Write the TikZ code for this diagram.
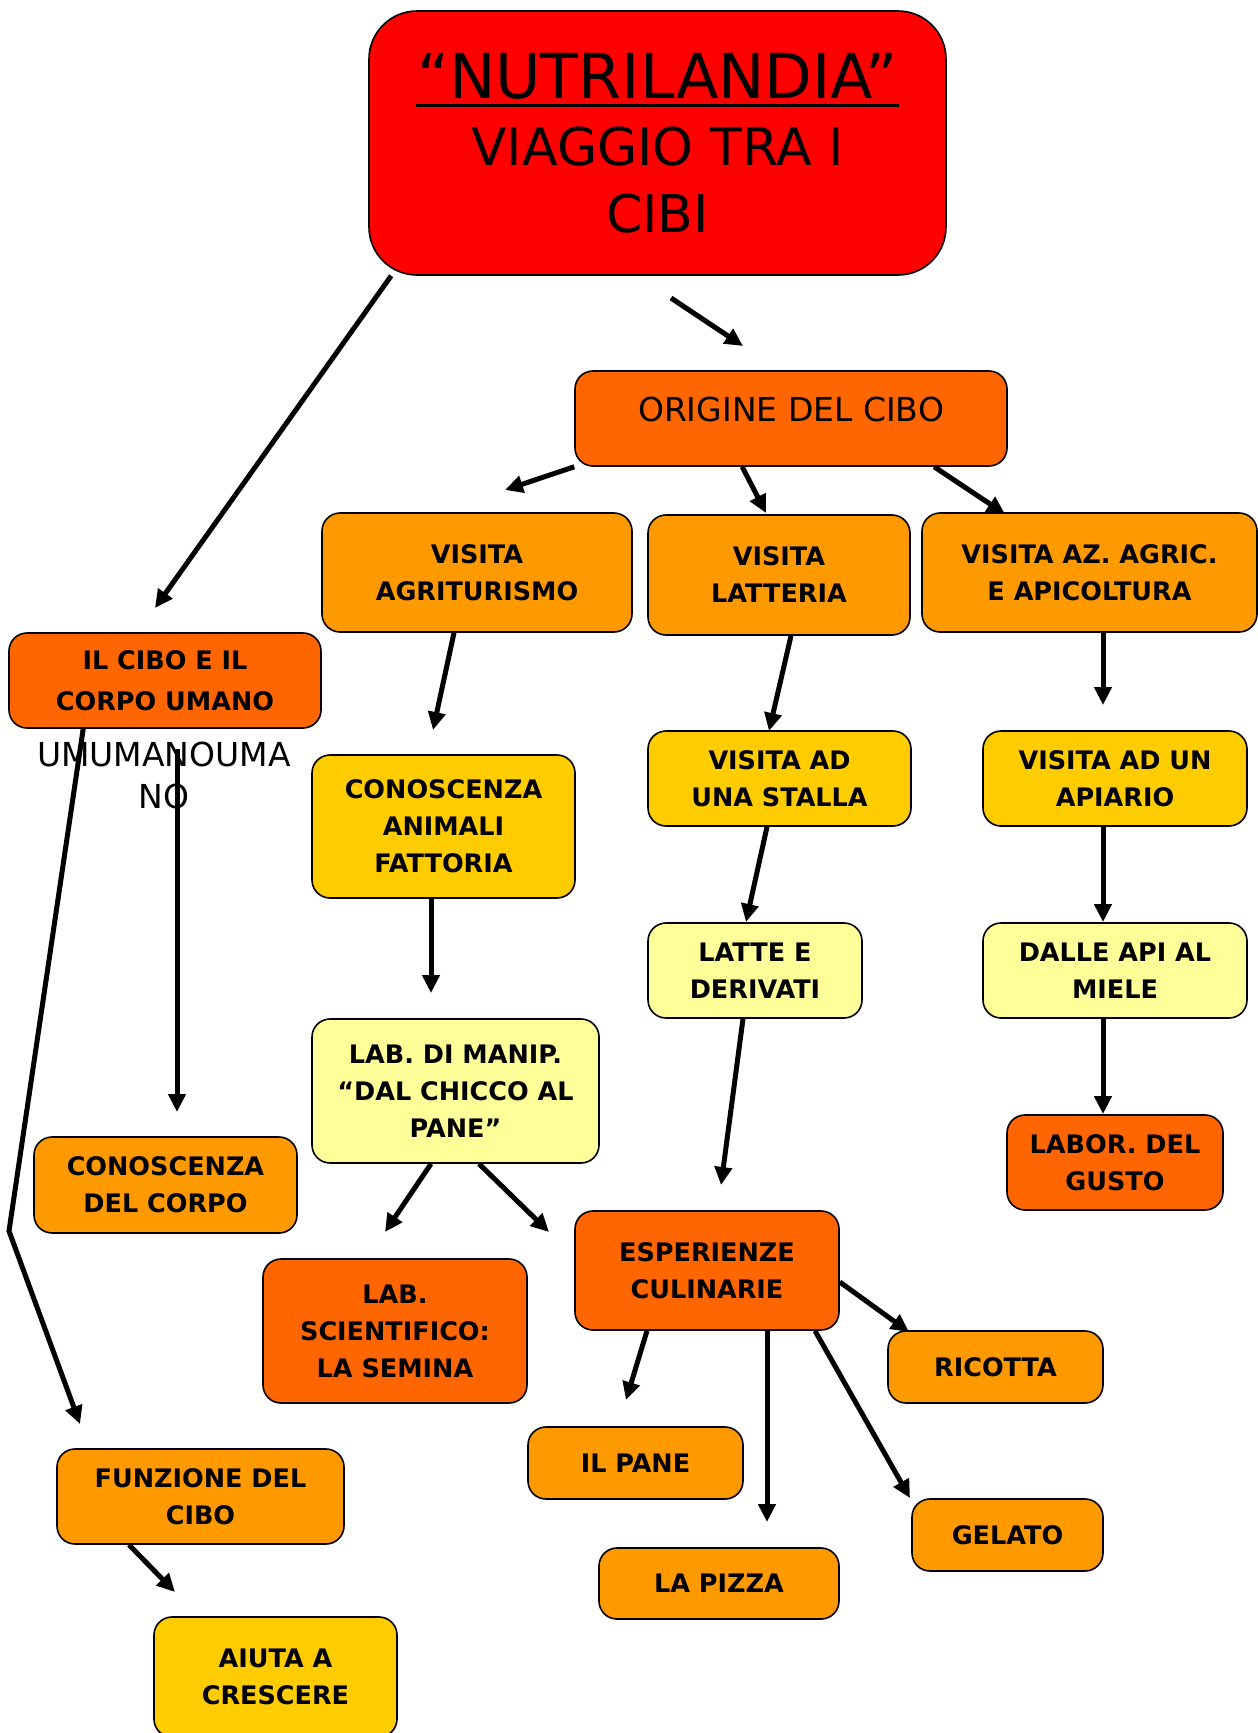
\documentclass[tikz,border=0pt]{standalone}
\usepackage{fontspec}
\setmainfont{DejaVu Sans}
\usetikzlibrary{arrows.meta}
\definecolor{cred}{HTML}{FF0000}
\definecolor{cdark}{HTML}{FF6600}
\definecolor{corange}{HTML}{FF9900}
\definecolor{cyellow}{HTML}{FFCC00}
\definecolor{clight}{HTML}{FFFF99}
\tikzset{
  bx/.style={draw=black, line width=1.6pt, rounded corners=18pt, align=center,
    inner sep=0pt, font=\fontsize{25.5}{37}\selectfont\bfseries},
  arr/.style={line width=5pt, -{Triangle[length=18pt,width=17pt]}},
}
\newcommand{\bnode}[6]{\node[bx, fill=#2, minimum width=#4pt, minimum height=#5pt] (#1) at (#3) {#6};}
\begin{document}
\begin{tikzpicture}[x=1pt,y=-1pt]
\useasboundingbox (0,0) rectangle (1258,1733);
\clip (0,0) rectangle (1258,1733);
% title
\node[draw=black, line width=1.6pt, fill=cred, rounded corners=48pt, align=center,
  minimum width=577pt, minimum height=264pt, inner sep=0pt,
  font=\fontsize{52}{67}\selectfont] (title) at (657.5,143)
  {{\fontsize{62}{67}\selectfont “NUTRILANDIA”}\\VIAGGIO TRA I\\CIBI};
\draw[line width=3pt] (416,105) -- (899,105);
% nodes
\node[bx, fill=cdark, minimum width=432pt, minimum height=95pt,
  font=\fontsize{33}{40}\selectfont, text height=25pt, text depth=20pt] (orig) at (791,418.5) {ORIGINE DEL CIBO};
\bnode{agri}{corange}{477,572.5}{310}{119}{VISITA\\AGRITURISMO}
\bnode{latt}{corange}{779,575}{262}{120}{VISITA\\LATTERIA}
\bnode{apic}{corange}{1089.5,572.5}{335}{119}{VISITA AZ. AGRIC.\\E APICOLTURA}
\node[bx, fill=cdark, minimum width=312pt, minimum height=95pt,
  font=\fontsize{25.5}{41}\selectfont\bfseries] (cibo) at (165,680.5) {IL CIBO E IL\\CORPO UMANO};
\node[align=center, inner sep=0pt, font=\fontsize{33}{42}\selectfont] (umu) at (164,775) {UMUMANOUMA\\NO};
\bnode{anim}{cyellow}{443.5,826.5}{263}{143}{CONOSCENZA\\ANIMALI\\FATTORIA}
\bnode{stal}{cyellow}{779.5,778.5}{263}{95}{VISITA AD\\UNA STALLA}
\bnode{apia}{cyellow}{1115,778.5}{264}{95}{VISITA AD UN\\APIARIO}
\bnode{latte}{clight}{755,970.5}{214}{95}{LATTE E\\DERIVATI}
\bnode{miele}{clight}{1115,970.5}{264}{95}{DALLE API AL\\MIELE}
\bnode{manip}{clight}{455.5,1091}{287}{144}{LAB. DI MANIP.\\“DAL CHICCO AL\\PANE”}
\bnode{corpo}{corange}{165.5,1185}{263}{96}{CONOSCENZA\\DEL CORPO}
\bnode{gusto}{cdark}{1115,1162.5}{216}{95}{LABOR. DEL\\GUSTO}
\bnode{semina}{cdark}{395,1331}{264}{144}{LAB.\\SCIENTIFICO:\\LA SEMINA}
\bnode{esper}{cdark}{707,1270.5}{264}{119}{ESPERIENZE\\CULINARIE}
\bnode{ricot}{corange}{995.5,1367}{215}{72}{RICOTTA}
\bnode{pane}{corange}{635.5,1463}{215}{72}{IL PANE}
\bnode{gelato}{corange}{1007.5,1535}{191}{72}{GELATO}
\bnode{pizza}{corange}{719,1583.5}{240}{71}{LA PIZZA}
\bnode{funz}{corange}{200.5,1496.5}{287}{95}{FUNZIONE DEL\\CIBO}
\bnode{aiuta}{cyellow}{275.5,1677}{243}{120}{AIUTA A\\CRESCERE}
% free ends
\coordinate (e-cibo) at (155,608);
\coordinate (s-orig) at (671,298);
\coordinate (e-orig) at (743,346);
\coordinate (e-agri) at (505,490);
\coordinate (e-latt) at (766,513);
\coordinate (e-apic) at (1005,514);
\coordinate (e-anim) at (433,730);
\coordinate (e-manip) at (431,993);
\coordinate (e-stal) at (769,731);
\coordinate (e-latte) at (746,922);
\coordinate (e-esper) at (721,1185);
\coordinate (e-apia) at (1103,705);
\coordinate (e-miele) at (1103,922);
\coordinate (e-gusto) at (1103,1114);
\coordinate (s-corpo) at (177,749);
\coordinate (e-corpo) at (177,1112);
\coordinate (m-funz) at (9,1231);
\coordinate (e-funz) at (80,1424);
\coordinate (e-semina) at (385,1232);
\coordinate (e-esper2) at (549,1232);
\coordinate (e-pane) at (626,1400);
\coordinate (e-pizza) at (767,1522);
\coordinate (e-gelato) at (910,1498);
\coordinate (e-ricot) at (909,1332);
\coordinate (e-aiuta) at (175,1592);
% connectors
\draw[arr] ([xshift=23pt]title.south west) -- (e-cibo);
\draw[arr] (s-orig) -- (e-orig);
\draw[arr] (orig.south west) -- (e-agri);
\draw[arr] ([xshift=168pt]orig.south west) -- (e-latt);
\draw[arr] ([xshift=360pt]orig.south west) -- (e-apic);
\draw[arr] ([xshift=-23pt]agri.south) -- (e-anim);
\draw[arr] ([xshift=-12.5pt]anim.south) -- (e-manip);
\draw[arr] ([xshift=12pt]latt.south) -- (e-stal);
\draw[arr] ([xshift=-12.5pt]stal.south) -- (e-latte);
\draw[arr] ([xshift=-12pt]latte.south) -- (e-esper);
\draw[arr] ([xshift=13.5pt]apic.south) -- (e-apia);
\draw[arr] ([xshift=-12pt]apia.south) -- (e-miele);
\draw[arr] ([xshift=-12pt]miele.south) -- (e-gusto);
\draw[arr] (s-corpo) -- (e-corpo);
\draw[arr] ([xshift=75pt]cibo.south west) -- (m-funz) -- (e-funz);
\draw[arr] ([xshift=-24.5pt]manip.south) -- (e-semina);
\draw[arr] ([xshift=23.5pt]manip.south) -- (e-esper2);
\draw[arr] ([xshift=-60pt]esper.south) -- (e-pane);
\draw[arr] ([xshift=60pt]esper.south) -- (e-pizza);
\draw[arr] ([xshift=108pt]esper.south) -- (e-gelato);
\draw[arr] ([yshift=-11.5pt]esper.east) -- (e-ricot);
\draw[arr] ([xshift=-71.5pt]funz.south) -- (e-aiuta);
\end{tikzpicture}
\end{document}
